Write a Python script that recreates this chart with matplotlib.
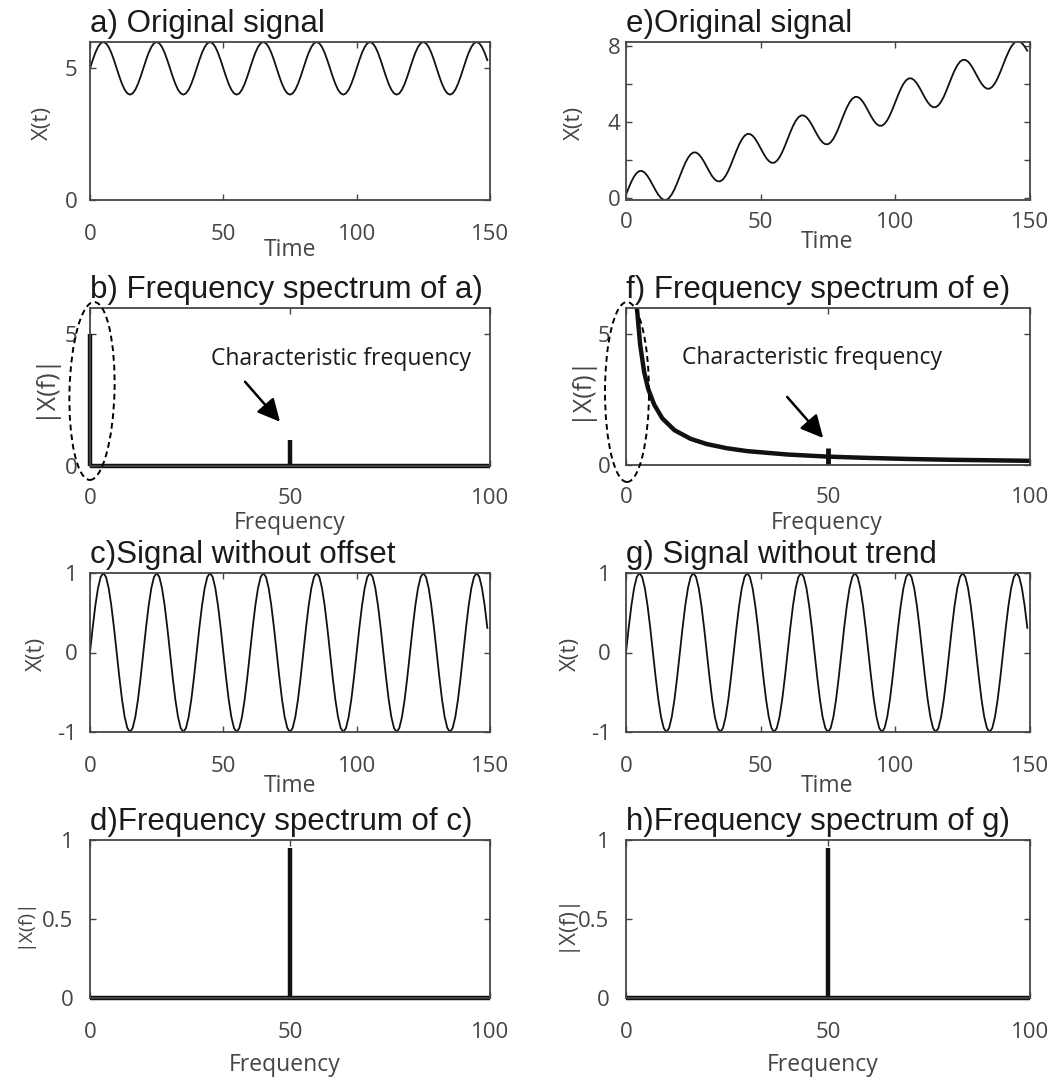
import numpy as np
import matplotlib.pyplot as plt
from matplotlib.patches import Ellipse

plt.rcParams['font.family'] = ['Open Sans', 'DejaVu Sans']
plt.rcParams['axes.unicode_minus'] = False

# ---- data ----
time = np.arange(0, 150)
# one period (20 time units) of the oscillation, sampled every time unit
cycle = [0.0, 0.31, 0.59, 0.81, 0.95, 1.0, 0.95, 0.81, 0.59, 0.31,
         0.0, -0.31, -0.59, -0.81, -0.95, -1.0, -0.95, -0.81, -0.59, -0.31]
wave = np.tile(cycle, 8)[:len(time)]
offset_a = 5.0
trend_start, trend_end = 0.2, 7.45
trend_e = np.linspace(trend_start, trend_end, len(time))

sig_a = offset_a + wave
sig_e = trend_e + wave
sig_c = wave
sig_g = wave

spec_a_freq = [0, 50]
spec_a_amp = [5.0, 1.0]

spec_e_freq = [2.5, 2.7, 3.5, 4.5, 5.5, 7, 9, 12, 16, 20, 25, 30, 40, 50, 60, 70, 80, 90, 100]
spec_e_amp = [6.4, 6.0, 4.6, 3.55, 2.9, 2.3, 1.78, 1.33, 1.0, 0.8, 0.64, 0.53, 0.4, 0.32,
              0.27, 0.23, 0.2, 0.18, 0.16]
spec_e_peak_freq = [50]
spec_e_peak_amp = [0.65]

spec_c_freq = [50]
spec_c_amp = [0.95]
spec_g_freq = [50]
spec_g_amp = [0.95]

W, H = 1051, 1080
fig = plt.figure(figsize=(W / 100, H / 100), dpi=100)

GRAY = '#454545'
TFONT = ['Liberation Sans', 'DejaVu Sans']

# panel boxes in pixels: left, top, right, bottom
boxes = {
    'a': (90, 42, 490, 200), 'e': (626, 42, 1030, 200),
    'b': (90, 308, 490, 466), 'f': (626, 308, 1030, 465),
    'c': (90, 573, 490, 732), 'g': (626, 573, 1030, 732),
    'd': (90, 840, 490, 998), 'h': (626, 840, 1030, 998),
}


def make_ax(key):
    l, t, r, b = boxes[key]
    ax = fig.add_axes([l / W, 1 - b / H, (r - l) / W, (b - t) / H])
    for s in ax.spines.values():
        s.set_color(GRAY)
        s.set_linewidth(1.3)
    ax.tick_params(direction='in', top=True, right=True, length=4, width=1,
                   colors=GRAY, labelsize=16)
    return ax


def place_labels(ax, key, xl, xpos, yl, ypos, ysize=16):
    l, t, r, b = boxes[key]
    ax.set_xlabel(xl, fontsize=16.5, color=GRAY)
    ax.set_ylabel(yl, fontsize=ysize, color=GRAY)
    ax.xaxis.set_label_coords((xpos[0] - l) / (r - l), (b - xpos[1]) / (b - t))
    ax.yaxis.set_label_coords((ypos[0] - l) / (r - l), (b - ypos[1]) / (b - t))
    ax.xaxis.label.set_va('center')
    ax.yaxis.label.set_va('center')
    ax.yaxis.label.set_ha('center')


def title(ax, text):
    ax.set_title(text, loc='left', fontsize=22.5, family=TFONT, color='#1a1a1a', pad=7)


def ellipse(cx, cy, w, h, angle):
    e = Ellipse((cx / W, 1 - cy / H), w / W, h / H, angle=angle, fill=False,
                ec='k', lw=1.4, ls=(0, (3, 2)), transform=fig.transFigure)
    fig.add_artist(e)


def pointer(ax, text, text_xy, start, tip):
    ax.text(text_xy[0], text_xy[1], text, fontsize=16.5, color='#1a1a1a',
            va='center', ha='left')
    ax.annotate('', xy=tip, xytext=start,
                arrowprops=dict(arrowstyle='-|>', color='k', lw=1.8, mutation_scale=34,
                                shrinkA=0, shrinkB=0))


# a) original signal
ax = make_ax('a')
ax.plot(time, sig_a, color='#111111', lw=1.3)
ax.set_xlim(0, 150)
ax.set_ylim(0, 6)
ax.set_xticks([0, 50, 100, 150])
ax.set_yticks([0, 5])
ax.tick_params(axis='x', pad=17)
ax.tick_params(axis='y', pad=9)
title(ax, 'a) Original signal')
place_labels(ax, 'a', 'Time', (290, 250), 'X(t)', (42, 123))

# e) original signal with trend
ax = make_ax('e')
ax.plot(time, sig_e, color='#111111', lw=1.3)
ax.set_xlim(0, 150)
ax.set_ylim(-0.08, 8.22)
ax.set_xticks([0, 50, 100, 150])
ax.set_yticks([0, 2, 4, 6, 8])
ax.set_yticklabels(['0', '', '4', '', '8'])
ax.tick_params(axis='x', pad=9)
ax.tick_params(axis='y', pad=4)
title(ax, 'e)Original signal')
place_labels(ax, 'e', 'Time', (827, 242), 'X(t)', (574, 123))

# b) spectrum of a
ax = make_ax('b')
ax.hlines(0, 0, 100, color='#111111', lw=3.2, clip_on=False)
ax.vlines(spec_a_freq, 0, spec_a_amp, color='#111111', lw=3.2, clip_on=False)
ax.set_xlim(0, 100)
ax.set_ylim(0, 6)
ax.set_xticks([0, 50, 100])
ax.set_yticks([0, 5])
ax.tick_params(axis='x', pad=16)
ax.tick_params(axis='y', pad=9)
title(ax, 'b) Frequency spectrum of a)')
place_labels(ax, 'b', 'Frequency', (290, 523), '|X(f)|', (43, 385), ysize=18)
pointer(ax, 'Characteristic frequency', (30.2, 4.05), (38.75, 3.2), (47.5, 1.68))
ellipse(92, 391, 45, 178, -1.5)

# f) spectrum of e
ax = make_ax('f')
ax.plot(spec_e_freq, spec_e_amp, color='#111111', lw=3.2)
ax.vlines(spec_e_peak_freq, 0, spec_e_peak_amp, color='#111111', lw=3.5)
ax.set_xlim(0, 100)
ax.set_ylim(0, 6)
ax.set_xticks([0, 50, 100])
ax.set_yticks([0, 5])
ax.tick_params(axis='x', pad=16)
ax.tick_params(axis='y', pad=11)
title(ax, 'f) Frequency spectrum of e)')
place_labels(ax, 'f', 'Frequency', (827, 523), '|X(f)|', (580, 387), ysize=18)
pointer(ax, 'Characteristic frequency', (13.9, 4.08), (39.9, 2.6), (48.8, 1.03))
ellipse(627, 392, 44, 180, 0)

# c) signal without offset
ax = make_ax('c')
ax.plot(time, sig_c, color='#111111', lw=1.3)
ax.set_xlim(0, 150)
ax.set_ylim(-1, 1)
ax.set_xticks([0, 50, 100, 150])
ax.set_yticks([-1, 0, 1])
ax.tick_params(axis='x', pad=17)
ax.tick_params(axis='y', pad=9)
title(ax, 'c)Signal without offset')
place_labels(ax, 'c', 'Time', (290, 786), 'X(t)', (36, 654))

# g) signal without trend
ax = make_ax('g')
ax.plot(time, sig_g, color='#111111', lw=1.3)
ax.set_xlim(0, 150)
ax.set_ylim(-1, 1)
ax.set_xticks([0, 50, 100, 150])
ax.set_yticks([-1, 0, 1])
ax.tick_params(axis='x', pad=17)
ax.tick_params(axis='y', pad=11)
title(ax, 'g) Signal without trend')
place_labels(ax, 'g', 'Time', (827, 786), 'X(t)', (570, 654))

# d) spectrum of c
ax = make_ax('d')
ax.hlines(0, 0, 100, color='#111111', lw=3.2, clip_on=False)
ax.vlines(spec_c_freq, 0, spec_c_amp, color='#111111', lw=3.2)
ax.set_xlim(0, 100)
ax.set_ylim(0, 1)
ax.set_xticks([0, 50, 100])
ax.set_yticks([0, 0.5, 1])
ax.set_yticklabels(['0', '0.5', '1'])
ax.tick_params(axis='x', pad=17)
ax.tick_params(axis='y', pad=12)
title(ax, 'd)Frequency spectrum of c)')
place_labels(ax, 'd', 'Frequency', (285, 1065), '|X(f)|', (23, 923), ysize=14)

# h) spectrum of g
ax = make_ax('h')
ax.hlines(0, 0, 100, color='#111111', lw=3.2, clip_on=False)
ax.vlines(spec_g_freq, 0, spec_g_amp, color='#111111', lw=3.2)
ax.set_xlim(0, 100)
ax.set_ylim(0, 1)
ax.set_xticks([0, 50, 100])
ax.set_yticks([0, 0.5, 1])
ax.set_yticklabels(['0', '0.5', '1'])
ax.tick_params(axis='x', pad=17)
ax.tick_params(axis='y', pad=12)
title(ax, 'h)Frequency spectrum of g)')
place_labels(ax, 'h', 'Frequency', (823, 1065), '|X(f)|', (565, 922), ysize=16)

fig.savefig('out.png', dpi=100)
